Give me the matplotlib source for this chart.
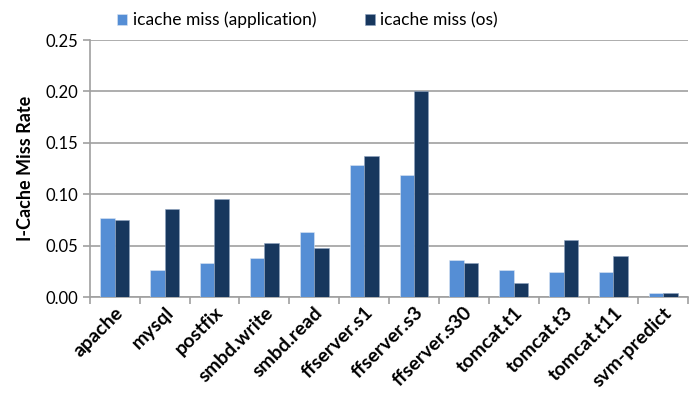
import numpy as np
import matplotlib as mpl
mpl.use('Agg')
import matplotlib.pyplot as plt

plt.rcParams['font.family'] = ['Lato', 'DejaVu Sans']

# benchmarks and miss rates
benchmarks = ['apache', 'mysql', 'postfix', 'smbd.write', 'smbd.read', 'ffserver.s1',
              'ffserver.s3', 'ffserver.s30', 'tomcat.t1', 'tomcat.t3', 'tomcat.t11', 'svm-predict']
miss_app = [0.077, 0.026, 0.033, 0.038, 0.063, 0.128, 0.119, 0.036, 0.026, 0.024, 0.024, 0.004]
miss_os = [0.075, 0.086, 0.095, 0.053, 0.048, 0.137, 0.200, 0.033, 0.014, 0.055, 0.040, 0.004]
yticks = [0.00, 0.05, 0.10, 0.15, 0.20, 0.25]

c_app = '#558ED5'
c_os = '#17375E'
grid_c = '#A0A0A0'

fig = plt.figure(figsize=(6.91, 4.0), dpi=100)
ax = fig.add_axes([0.130, 0.2575, 0.866, 0.6425])

x = np.arange(len(benchmarks))
w = 0.29
ax.bar(x - w/2, miss_app, w, color=c_app, edgecolor='#DCE6F2', linewidth=0.4,
       label='icache miss (application)', zorder=3)
ax.bar(x + w/2, miss_os, w, color=c_os, edgecolor='#8EA4C0', linewidth=0.4,
       label='icache miss (os)', zorder=3)

ax.set_xlim(-0.5, len(benchmarks) - 0.5)
ax.set_ylim(0, 0.25)
ax.set_yticks(yticks)
ax.set_yticklabels(['{:.2f}'.format(v) for v in yticks], fontsize=12)
ax.yaxis.grid(True, color=grid_c, linewidth=1.2, zorder=0)

ax.set_xticks(x)
ax.set_xticklabels(benchmarks, rotation=45, ha='right', rotation_mode='anchor',
                   fontsize=14, fontweight='bold')
ax.set_xticks(np.arange(len(benchmarks) + 1) - 0.5, minor=True)
ax.tick_params(axis='x', which='major', length=0, pad=5)
ax.tick_params(axis='x', which='minor', length=5, color=grid_c, width=1.2)
ax.tick_params(axis='y', length=5, color=grid_c, width=1.2)

for s in ['top', 'right']:
    ax.spines[s].set_visible(False)
for s in ['left', 'bottom']:
    ax.spines[s].set_color(grid_c)
    ax.spines[s].set_linewidth(1.2)

ax.set_ylabel('I-Cache Miss Rate', fontsize=13, fontweight='bold', labelpad=8)

fig.legend(loc='upper center', bbox_to_anchor=(0.445, 1.01), ncol=2, frameon=False,
           fontsize=12.5, handlelength=0.6, handleheight=0.6, columnspacing=2.8,
           handletextpad=0.3)

fig.savefig('out.png', dpi=100)
